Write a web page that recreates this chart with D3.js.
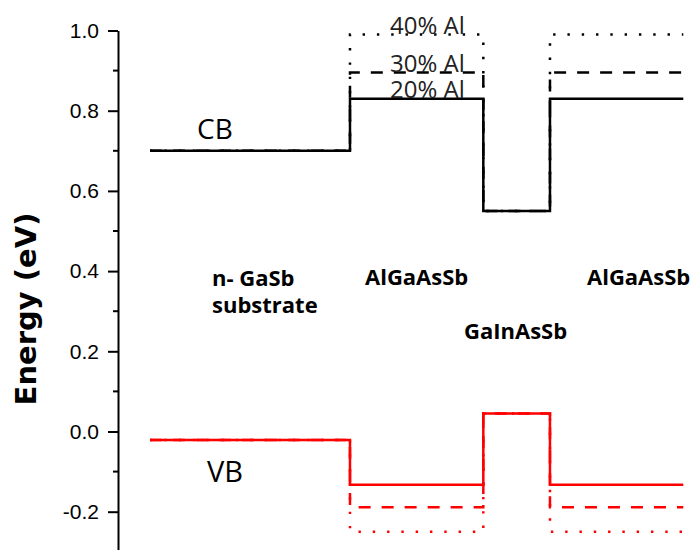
<!DOCTYPE html>
<html>
<head>
<meta charset="utf-8">
<script src="https://cdn.jsdelivr.net/npm/d3@7"></script>
<style>
  html, body { margin: 0; padding: 0; background: #fff; }
  svg { display: block; }
</style>
</head>
<body>
<svg id="chart" width="700" height="550"></svg>
<script>
// Layer stack (relative thickness units along the growth direction)
const layers = ["n- GaSb substrate", "AlGaAsSb", "GaInAsSb", "AlGaAsSb"];
const layerWidths = [3, 2, 1, 2];

// Conduction-band edge per layer (eV) for each barrier Al fraction
const alLabels = ["20% Al", "30% Al", "40% Al"];
const cb20 = [0.70, 0.83, 0.55, 0.83];
const cb30 = [0.70, 0.895, 0.55, 0.895];
const cb40 = [0.70, 0.99, 0.55, 0.99];

// Valence-band edge per layer (eV)
const vb20 = [-0.021, -0.133, 0.045, -0.133];
const vb30 = [-0.021, -0.189, 0.045, -0.189];
const vb40 = [-0.021, -0.25, 0.045, -0.25];

// Y-axis ticks
const majorTicks = [-0.2, 0.0, 0.2, 0.4, 0.6, 0.8, 1.0];
const minorTicks = [-0.1, 0.1, 0.3, 0.5, 0.7, 0.9];

const svg = d3.select("#chart");

const edges = [0];
layerWidths.forEach(w => edges.push(edges[edges.length - 1] + w));

const x = d3.scaleLinear().domain([0, edges[edges.length - 1]]).range([150, 683.3]);
const y = d3.scaleLinear().domain([-0.3, 1.0]).range([551.8, 30.5]);

// Y axis with major and minor ticks; plain hyphen for negatives
const fmt = d => d3.format(".1f")(d).replace("\u2212", "-");
const axisX = 118;
const gAxis = svg.append("g").attr("transform", `translate(${axisX},0)`);
gAxis.call(d3.axisLeft(y).tickValues(majorTicks).tickFormat(fmt)
    .tickSize(10).tickSizeOuter(0).tickPadding(9))
  .call(g => g.select(".domain").attr("stroke", "#000").attr("stroke-width", 2))
  .call(g => g.selectAll(".tick line").attr("stroke", "#000").attr("stroke-width", 2))
  .call(g => g.selectAll(".tick text")
      .attr("font-family", "'Liberation Sans', Arial, sans-serif")
      .attr("font-size", 21).attr("fill", "#000"));
gAxis.selectAll(".minor").data(minorTicks).enter().append("line")
  .attr("class", "minor")
  .attr("x1", -5).attr("x2", 0)
  .attr("y1", d => y(d)).attr("y2", d => y(d))
  .attr("stroke", "#000").attr("stroke-width", 2);

svg.append("text")
  .attr("transform", `translate(36,309) rotate(-90)`)
  .attr("text-anchor", "middle")
  .attr("font-family", "'DejaVu Sans', Verdana, sans-serif")
  .attr("font-weight", "bold")
  .attr("font-size", 29)
  .attr("fill", "#000")
  .text("Energy (eV)");

// Step path through the layer stack for a band-edge profile
function stepPoints(vals) {
  const pts = [];
  vals.forEach((v, i) => {
    pts.push([edges[i], v]);
    pts.push([edges[i + 1], v]);
  });
  return pts;
}
const line = d3.line().x(d => x(d[0])).y(d => y(d[1]));

const styles = [
  { dash: null },          // 20% Al
  { dash: "12 11" },       // 30% Al
  { dash: "2.4 11.9" }     // 40% Al
];

const cbSets = [cb20, cb30, cb40];
const vbSets = [vb20, vb30, vb40];

// Draw dashed/dotted first so the solid profile sits on top
[2, 1, 0].forEach(i => {
  svg.append("path")
    .attr("d", line(stepPoints(cbSets[i])))
    .attr("fill", "none").attr("stroke", "#000").attr("stroke-width", 2.5)
    .attr("stroke-dasharray", styles[i].dash);
  svg.append("path")
    .attr("d", line(stepPoints(vbSets[i])))
    .attr("fill", "none").attr("stroke", "#ff0000").attr("stroke-width", 2.5)
    .attr("stroke-dasharray", styles[i].dash);
});

// Al-fraction labels sit on their barrier conduction-band levels
const alLevels = [cb20[1], cb30[1], cb40[1]];
svg.selectAll(".al").data(alLabels).enter().append("text")
  .attr("x", 390)
  .attr("y", (d, i) => y(alLevels[i]) - 1)
  .attr("font-family", "'Open Sans', sans-serif")
  .attr("font-size", 24)
  .attr("fill", "#222")
  .text(d => d);

// Band labels
svg.append("text").attr("x", 197).attr("y", 139)
  .attr("font-family", "'Open Sans', sans-serif").attr("font-size", 28)
  .attr("fill", "#000").text("CB");
svg.append("text").attr("x", 207).attr("y", 482)
  .attr("font-family", "'Open Sans', sans-serif").attr("font-size", 29)
  .attr("fill", "#000").text("VB");

// Layer names
const layerLabelPos = [
  { x: 212, y: 285.5 },
  { x: 365, y: 285 },
  { x: 464, y: 339 },
  { x: 587, y: 285 }
];
layers.forEach((name, i) => {
  const t = svg.append("text")
    .attr("x", layerLabelPos[i].x).attr("y", layerLabelPos[i].y)
    .attr("font-family", "'Open Sans', sans-serif")
    .attr("font-weight", "bold").attr("font-size", 22).attr("fill", "#000");
  if (i === 0) {
    t.append("tspan").attr("x", layerLabelPos[i].x).text("n- GaSb");
    t.append("tspan").attr("x", layerLabelPos[i].x).attr("dy", 27.5).text("substrate");
  } else {
    t.text(name);
  }
});
</script>
</body>
</html>
